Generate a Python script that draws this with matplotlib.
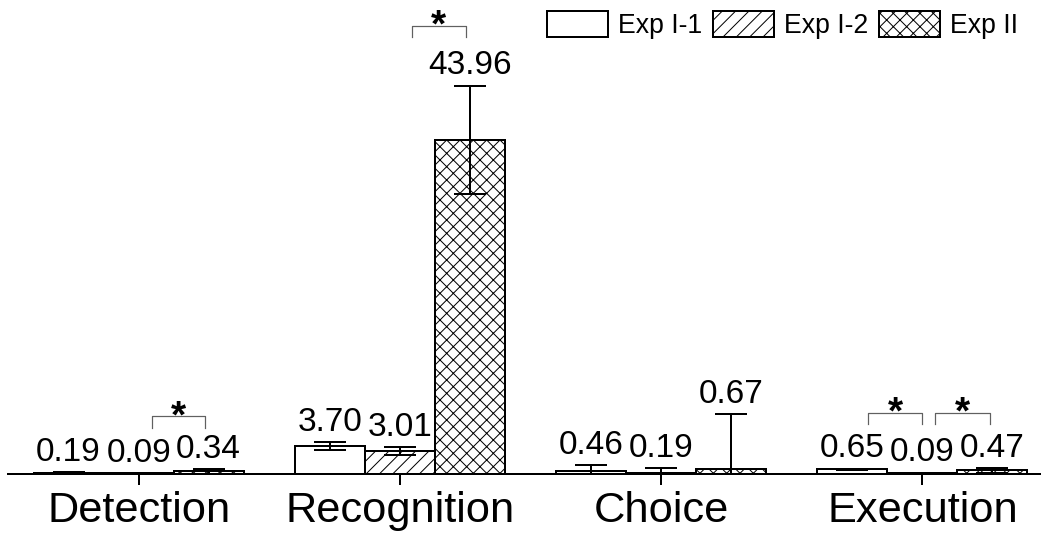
import matplotlib
matplotlib.use('Agg')
import matplotlib.pyplot as plt
import numpy as np

plt.rcParams['font.family'] = ['Liberation Sans', 'DejaVu Sans']
plt.rcParams['hatch.linewidth'] = 0.9

# данные
categories = ['Detection', 'Recognition', 'Choice', 'Execution']
series_names = ['Exp I-1', 'Exp I-2', 'Exp II']
hatches = ['', '//', 'xx']
exp_i1 = [0.19, 3.70, 0.46, 0.65]
exp_i2 = [0.09, 3.01, 0.19, 0.09]
exp_ii = [0.34, 43.96, 0.67, 0.47]
err_i1 = [0.05, 0.56, 0.72, 0.07]
err_i2 = [0.05, 0.50, 0.56, 0.10]
err_ii = [0.28, 7.15, 7.19, 0.36]

# скобки значимости (x1, x2, y)
sig_x1 = [0.05, 1.045, 2.79, 3.05]
sig_x2 = [0.254, 1.253, 3.00, 3.26]
sig_y = [7.63, 59.0, 8.07, 8.07]

dpi = 80
fig = plt.figure(figsize=(1044 / dpi, 536 / dpi), dpi=dpi)
ax = fig.add_axes([8 / 1044, 62 / 536, 1032 / 1044, 474 / 536])

x = np.arange(len(categories))
w = 0.268
values = [exp_i1, exp_i2, exp_ii]
errors = [err_i1, err_i2, err_ii]

for i in range(3):
    pos = x + (i - 1) * w
    ax.bar(pos, values[i], w, color='white', edgecolor='black', linewidth=1.8,
           hatch=hatches[i], label=series_names[i], zorder=2)
    ax.errorbar(pos, values[i], yerr=errors[i], fmt='none', ecolor='black',
                elinewidth=1.8, capsize=14, capthick=1.8, zorder=3)
    for px, v, e in zip(pos, values[i], errors[i]):
        ax.annotate('%.2f' % v, (px, v + e), xytext=(0, 10), textcoords='offset points',
                    ha='center', va='baseline', fontsize=30)

drop = 1.55
for x1, x2, y in zip(sig_x1, sig_x2, sig_y):
    ax.plot([x1, x1, x2, x2], [y - drop, y, y, y - drop], color='#606060', lw=1.1,
            clip_on=False, zorder=4)
    ax.annotate('*', ((x1 + x2) / 2, y), xytext=(0, -10), textcoords='offset points',
                ha='center', va='baseline', fontsize=35, fontweight='bold')

ax.set_xlim(-0.5, 3.45)
ax.set_ylim(0, 474 / 7.6)
ax.set_xticks(x)
ax.set_xticklabels(categories, fontsize=39)
ax.tick_params(axis='x', length=10, width=1.8, pad=5)
ax.set_yticks([])
for s in ['left', 'top', 'right']:
    ax.spines[s].set_visible(False)
ax.spines['bottom'].set_linewidth(1.8)

leg = ax.legend(ncol=3, frameon=False, fontsize=24, loc='upper right',
                bbox_to_anchor=(1018 / 1044, 1 - 11 / 536), bbox_transform=fig.transFigure,
                borderaxespad=0, borderpad=0, handlelength=2.29, handleheight=1.12,
                handletextpad=0.37, columnspacing=0.41)

fig.savefig('out.png', dpi=dpi)
